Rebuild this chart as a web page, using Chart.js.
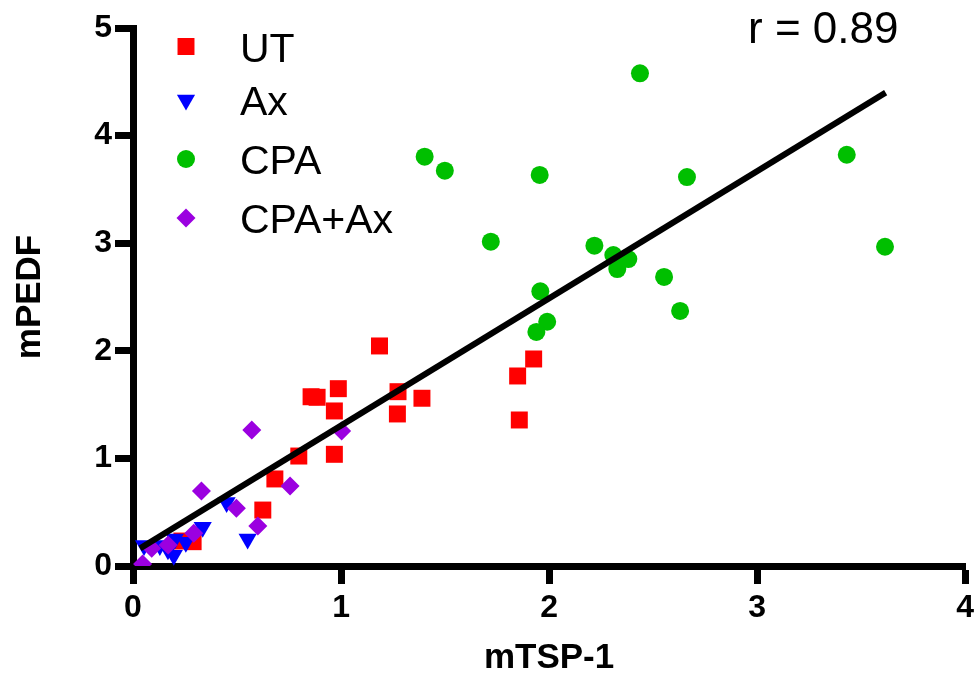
<!DOCTYPE html>
<html>
<head>
<meta charset="utf-8">
<script src="https://cdn.jsdelivr.net/npm/chart.js@4/dist/chart.umd.min.js"></script>
<style>
  body { margin: 0; background: #fff; }
  #wrap { width: 979px; height: 680px; }
</style>
</head>
<body>
<div id="wrap"><canvas id="myChart" width="979" height="680"></canvas></div>
<script>
// values
const utX = [1.185, 0.987, 0.856, 0.885, 0.968, 1.274, 1.389, 1.271, 0.968, 0.797, 0.682, 0.624, 1.926, 1.849, 1.857, 0.289, 0.235];
const utY = [2.045, 1.648, 1.573, 1.568, 1.441, 1.620, 1.559, 1.413, 1.038, 1.022, 0.809, 0.520, 1.924, 1.766, 1.357, 0.226, 0.232];

const axX = [0.335, 0.450, 0.551, 0.254, 0.201, 0.168, 0.129, 0.053, 0.196];
const axY = [0.36, 0.59, 0.25, 0.22, 0.25, 0.15, 0.19, 0.19, 0.10];

const cpaX = [2.437, 1.402, 1.499, 1.955, 2.663, 3.431, 3.615, 1.720, 2.218, 2.309, 2.381, 2.328, 2.553, 2.630, 1.958, 1.991, 1.939];
const cpaY = [4.579, 3.804, 3.674, 3.634, 3.615, 3.822, 2.967, 3.014, 2.977, 2.890, 2.853, 2.760, 2.686, 2.370, 2.553, 2.270, 2.175];

const cpaAxX = [0.571, 0.329, 0.755, 0.497, 0.600, 0.292, 0.169, 0.090, 0.046, 1.003];
const cpaAxY = [1.264, 0.697, 0.743, 0.536, 0.372, 0.304, 0.195, 0.164, 0.019, 1.255];

const fitX = [0.034, 3.618];
const fitY = [0.164, 4.399];

const xTicks = [0, 1, 2, 3, 4];
const yTicks = [0, 1, 2, 3, 4, 5];
const rText = 'r = 0.89';

function toPoints(xs, ys) {
    let pts = [];
    for (let i = 0; i < xs.length; i++) {
        pts.push({x: xs[i], y: ys[i]});
    }
    return pts;
}

const groups = [
    {label: 'UT', style: 'rect', radius: 12, rotation: 0, color: '#ff0000', xs: utX, ys: utY, order: 3},
    {label: 'Ax', style: 'triangle', radius: 10.5, rotation: 180, color: '#0000ff', xs: axX, ys: axY, order: 2},
    {label: 'CPA', style: 'circle', radius: 9, rotation: 0, color: '#00bf00', xs: cpaX, ys: cpaY, order: 4},
    {label: 'CPA+Ax', style: 'rectRot', radius: 9.5, rotation: 0, color: '#9b00e0', xs: cpaAxX, ys: cpaAxY, order: 1}
];

let datasets = [{
    type: 'line',
    label: 'fit',
    data: toPoints(fitX, fitY),
    borderColor: '#000',
    borderWidth: 6,
    pointRadius: 0,
    fill: false,
    order: 0
}];
groups.forEach(g => {
    datasets.push({
        type: 'scatter',
        label: g.label,
        data: toPoints(g.xs, g.ys),
        pointStyle: g.style,
        pointRadius: g.radius,
        pointRotation: g.rotation,
        backgroundColor: g.color,
        borderColor: g.color,
        borderWidth: 0,
        order: g.order
    });
});

// legend and r text drawn by hand
const extras = {
    id: 'extras',
    afterDraw(chart) {
        const ctx = chart.ctx;
        ctx.save();
        const rows = [46.5, 100, 159, 218];
        groups.forEach((g, i) => {
            ctx.fillStyle = g.color;
            ctx.strokeStyle = g.color;
            ctx.lineWidth = 0;
            Chart.helpers.drawPoint(ctx, {pointStyle: g.style, radius: g.radius, rotation: g.rotation, borderWidth: 0}, 186, rows[i]);
            ctx.fillStyle = '#000';
            ctx.font = '41px "Liberation Sans", Arial, sans-serif';
            ctx.textAlign = 'left';
            ctx.textBaseline = 'alphabetic';
            ctx.fillText(g.label, 240, rows[i] + 15);
        });
        ctx.font = '44px "Liberation Sans", Arial, sans-serif';
        ctx.fillText(rText, 748, 43);
        ctx.restore();
    }
};

const axisCommon = {
    type: 'linear',
    grid: {
        display: true,
        drawOnChartArea: false,
        drawTicks: true,
        tickLength: 18,
        tickWidth: 7,
        tickColor: '#000'
    },
    border: {display: true, width: 7, color: '#000'}
};

const ctx = document.getElementById('myChart').getContext('2d');
const chart = new Chart(ctx, {
    data: {datasets: datasets},
    options: {
        responsive: false,
        animation: false,
        layout: {padding: {top: 28, right: 11, left: 0, bottom: 0}},
        plugins: {legend: {display: false}, tooltip: {enabled: false}},
        scales: {
            x: Object.assign({}, axisCommon, {
                min: 0,
                max: 4,
                afterBuildTicks: s => { s.ticks = xTicks.map(v => ({value: v})); },
                afterFit: s => { s.height = 114; },
                ticks: {color: '#000', padding: 5, font: {family: '"Liberation Sans", Arial, sans-serif', size: 32, weight: 'bold'}},
                title: {display: true, text: 'mTSP-1', color: '#000', padding: {top: 0, bottom: 1}, font: {family: '"Liberation Sans", Arial, sans-serif', size: 35, weight: 'bold'}}
            }),
            y: Object.assign({}, axisCommon, {
                min: 0,
                max: 5,
                afterBuildTicks: s => { s.ticks = yTicks.map(v => ({value: v})); },
                afterFit: s => { s.width = 133; },
                ticks: {color: '#000', padding: 3, font: {family: '"Liberation Sans", Arial, sans-serif', size: 32, weight: 'bold'}},
                title: {display: true, text: 'mPEDF', color: '#000', padding: {top: 9, bottom: 0}, font: {family: '"Liberation Sans", Arial, sans-serif', size: 35, weight: 'bold'}}
            })
        }
    },
    plugins: [extras]
});
</script>
</body>
</html>
